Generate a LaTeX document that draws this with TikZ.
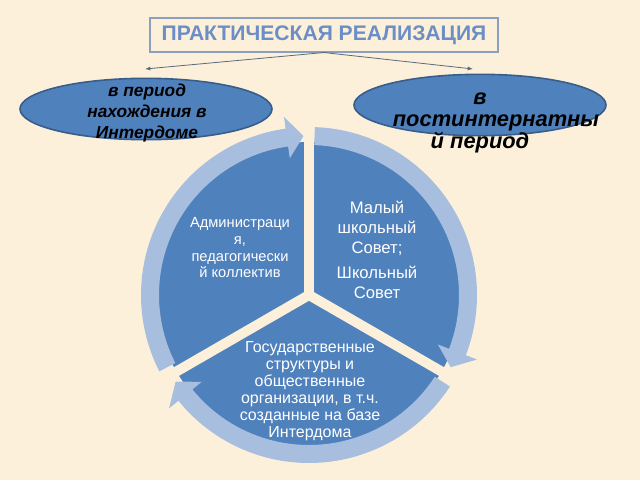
\documentclass[tikz,border=0pt]{standalone}
\usepackage{fontspec}
\setmainfont{Liberation Sans}
\usetikzlibrary{arrows.meta, shapes.geometric}
\definecolor{bgcream}{RGB}{252,240,218}
\definecolor{segblue}{RGB}{79,129,189}
\definecolor{ringblue}{RGB}{167,190,222}
\definecolor{rimblue}{RGB}{56,93,138}
\definecolor{titleblue}{RGB}{108,142,198}
\definecolor{boxgray}{RGB}{140,160,190}
\definecolor{linkgray}{RGB}{90,105,125}

\begin{document}
\begin{tikzpicture}[x=0.75pt, y=0.75pt,
    oval/.style={ellipse, draw=rimblue, line width=1.2pt, fill=segblue,
        minimum width=189pt, minimum height=46pt, inner sep=0pt},
    ovaltext/.style={align=center, font=\bfseries\itshape, text=black},
    segtext/.style={align=center, text=white},
    link/.style={draw=linkgray, line width=0.6pt, -{Latex[length=4pt,width=3pt]}}]
    % Background
    \fill[bgcream] (0,0) rectangle (640,480);
    % Title and its two branches
    \node[draw=boxgray, line width=0.8pt, fill=bgcream, text=titleblue,
        minimum width=261pt, minimum height=25.5pt,
        font=\bfseries\fontsize{15.8}{18}\selectfont] (title) at (324,445) {ПРАКТИЧЕСКАЯ РЕАЛИЗАЦИЯ};
    \coordinate (lend) at (145,411);
    \coordinate (rend) at (473,411);
    \draw[link] (title.south) -- (lend);
    \draw[link] (title.south) -- (rend);
    % Ovals
    \node[oval] (inside) at (146,371) {};
    \node[ovaltext, font=\bfseries\itshape\fontsize{13}{15.75}\selectfont] (insidetext) at (147,367)
        {в период\\нахождения в\\Интердоме};
    \node[oval] (after) at (480,375) {};
    \node[ovaltext, font=\bfseries\itshape\fontsize{16.4}{16.5}\selectfont] (aftertext) at (480,357)
        {в\\\hspace*{24pt}постинтернатны\\й период};
    % Segmented cycle
    \begin{scope}[shift={(309,185)}]
        \coordinate (O) at (0,0);
        % Segments
        \foreach \a in {90,210,330}
        {
            \fill[segblue] (O) -- (\a:153) arc[start angle=\a, end angle=\a+120, radius=153] -- cycle;
        }
        % Gaps between segments
        \foreach \a in {90,210,330}
        {
            \draw[bgcream, line width=7.5pt] (O) -- (\a:172);
        }
        % Arrows round the segments
        \foreach \s/\e in {207/92, 88/-27, 327/213}
        {
            \fill[ringblue] (\s:168) arc[start angle=\s, end angle=\e+6, radius=168]
                -- ({\e+6}:180) -- (\e:159) -- ({\e+6}:138) -- ({\e+6}:150)
                arc[start angle=\e+6, end angle=\s, radius=150] -- cycle;
        }
    \end{scope}
    % Texts of the segments
    \node[segtext, font=\fontsize{11}{12.5}\selectfont] (staff) at (240,232)
        {Администраци\\я,\\педагогически\\й коллектив};
    \node[segtext, font=\fontsize{12.5}{15}\selectfont] (council) at (377,230)
        {Малый\\школьный\\Совет;\\[4pt]Школьный\\Совет};
    \node[segtext, font=\fontsize{12}{12.8}\selectfont] (bodies) at (310,89)
        {Государственные\\структуры и\\общественные\\организации, в т.ч.\\созданные на базе\\Интердома};
\end{tikzpicture}
\end{document}
